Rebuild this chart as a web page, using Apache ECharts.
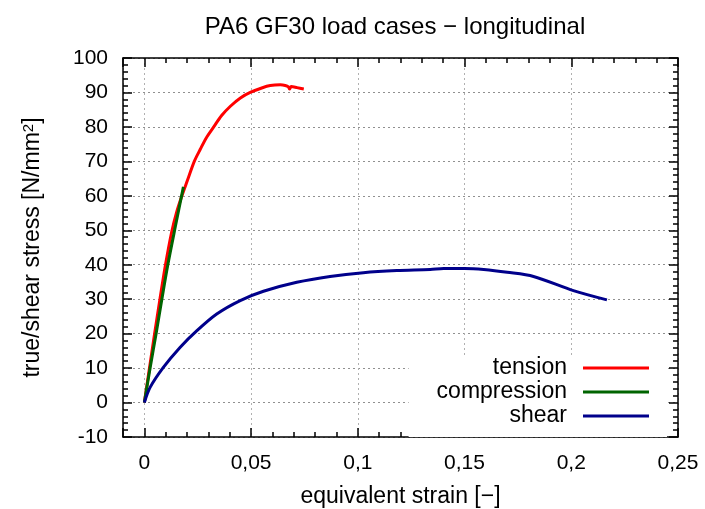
<!DOCTYPE html>
<html>
<head>
<meta charset="utf-8">
<script src="https://cdn.jsdelivr.net/npm/echarts@6/dist/echarts.min.js"></script>
<style>
  html, body { margin: 0; padding: 0; background: #fff; }
  #main { width: 705px; height: 509px; }
</style>
</head>
<body>
<div id="main"></div>
<script>
// tension curve (strain / stress)
var tensionStrain = [0, 0.0024, 0.0048, 0.0073, 0.0099, 0.0128, 0.015, 0.0176, 0.0202, 0.0234, 0.0262, 0.029, 0.0325, 0.0362, 0.0403, 0.045, 0.0496, 0.055, 0.059, 0.0637, 0.066, 0.0675, 0.068, 0.0688, 0.0715, 0.0747];
var tensionStress = [0, 10, 20, 30, 40, 49.5, 55, 60, 64.5, 70, 73.5, 76.8, 80, 83.3, 86, 88.4, 90, 91.3, 92, 92.2, 92.0, 91.6, 91.0, 91.7, 91.4, 91.0];

// compression curve
var compStrain = [0, 0.0027, 0.0055, 0.0082, 0.011, 0.0145, 0.0183];
var compStress = [0, 10, 20, 30, 40, 51, 62.6];

// shear curve
var shearStrain = [0, 0.0027, 0.0089, 0.0167, 0.0245, 0.0339, 0.0449, 0.0558, 0.0714, 0.087, 0.1026, 0.1183, 0.1339, 0.1402, 0.15, 0.159, 0.17, 0.1823, 0.201, 0.2167];
var shearStress = [0, 4.4, 10.2, 16.0, 20.8, 25.7, 29.6, 32.3, 34.9, 36.6, 37.7, 38.3, 38.6, 38.9, 38.9, 38.6, 37.8, 36.6, 32.5, 29.8];

var seriesNames = ['tension', 'compression', 'shear'];
var seriesColors = ['#ff0000', '#006400', '#00008b'];

var FONT = '"Liberation Sans", Arial, sans-serif';

function zip(xs, ys) {
    return xs.map(function (x, i) { return [x, ys[i]]; });
}

var myChart = echarts.init(document.getElementById('main'));

//坐标轴公共样式
function ticks() { return { show: true, inside: true, length: 9, lineStyle: { color: '#000', width: 1.5 } }; }
function minor() { return { show: true, splitNumber: 5, length: 5, lineStyle: { color: '#000', width: 1.5 } }; }
function axLine() { return { show: true, onZero: false, lineStyle: { color: '#000', width: 1.5 } }; }

var option = {
    animation: false,
    backgroundColor: '#fff',
    title: {
        text: 'PA6 GF30 load cases \u2212 longitudinal',
        left: 390,
        textAlign: 'center',
        top: 10,
        textStyle: { fontFamily: FONT, fontSize: 24, fontWeight: 'normal', color: '#000' }
    },
    grid: { left: 123, right: 27, top: 58, bottom: 72, containLabel: false, outerBoundsMode: 'none' },
    legend: {
        data: seriesNames,
        orient: 'vertical',
        align: 'right',
        right: 38,
        top: 355,
        padding: [1, 18, 9, 28],
        itemGap: 0,
        itemWidth: 66,
        itemHeight: 3,
        icon: 'rect',
        backgroundColor: '#fff',
        textStyle: { fontFamily: FONT, fontSize: 23, color: '#000', lineHeight: 24, padding: [0, 11, 0, 0] }
    },
    xAxis: [{
        type: 'value',
        min: -0.01,
        max: 0.25,
        splitNumber: 5,
        name: 'equivalent strain [\u2212]',
        nameLocation: 'middle',
        nameGap: 48,
        nameTextStyle: { fontFamily: FONT, fontSize: 23, color: '#000' },
        axisLine: axLine(),
        axisTick: ticks(),
        minorTick: minor(),
        axisLabel: {
            fontFamily: FONT, fontSize: 21, color: '#000', margin: 16,
            formatter: function (v) { return v < 0 ? '' : String(v).replace('.', ','); }
        },
        splitLine: { show: true, lineStyle: { color: '#b0b0b0', width: 1, type: [2, 3] } }
    }, {
        type: 'value',
        position: 'top',
        min: -0.01,
        max: 0.25,
        splitNumber: 5,
        axisLine: axLine(),
        axisTick: ticks(),
        minorTick: minor(),
        axisLabel: { show: false },
        splitLine: { show: false }
    }],
    yAxis: [{
        type: 'value',
        min: -10,
        max: 100,
        interval: 10,
        name: 'true/shear stress [N/mm{sup|2}]',
        nameLocation: 'middle',
        nameGap: 78,
        nameTextStyle: {
            fontFamily: FONT, fontSize: 23, color: '#000',
            rich: { sup: { fontFamily: FONT, fontSize: 15, color: '#000', verticalAlign: 'top', padding: [0, 0, 9, 0] } }
        },
        axisLine: axLine(),
        axisTick: ticks(),
        minorTick: minor(),
        axisLabel: { fontFamily: FONT, fontSize: 21, color: '#000', margin: 15 },
        splitLine: { show: true, lineStyle: { color: '#909090', width: 1, type: [2, 3] } }
    }, {
        type: 'value',
        position: 'right',
        min: -10,
        max: 100,
        interval: 10,
        axisLine: axLine(),
        axisTick: ticks(),
        minorTick: minor(),
        axisLabel: { show: false },
        splitLine: { show: false }
    }],
    series: [
        { name: seriesNames[0], data: zip(tensionStrain, tensionStress) },
        { name: seriesNames[1], data: zip(compStrain, compStress) },
        { name: seriesNames[2], data: zip(shearStrain, shearStress) }
    ].map(function (s, i) {
        return {
            name: s.name,
            type: 'line',
            xAxisIndex: 0,
            yAxisIndex: 0,
            data: s.data,
            showSymbol: false,
            smooth: 0.3,
            color: seriesColors[i],
            lineStyle: { color: seriesColors[i], width: 3 },
            z: 3
        };
    })
};

myChart.setOption(option);
</script>
</body>
</html>
